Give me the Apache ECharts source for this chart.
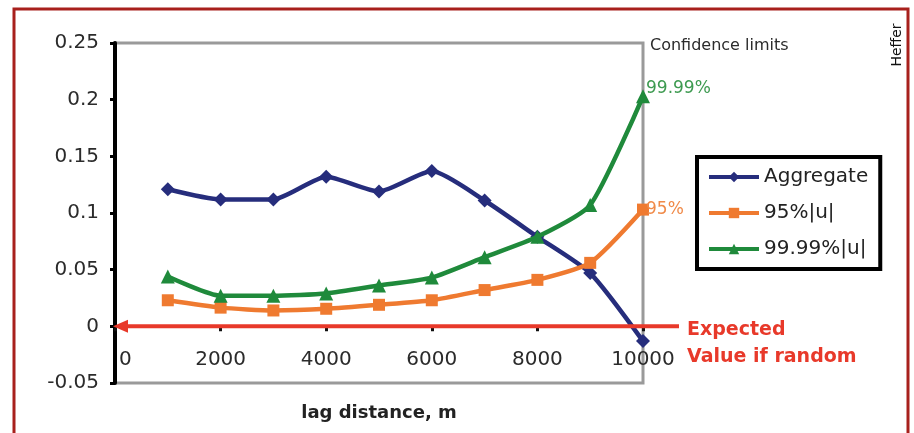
<!DOCTYPE html>
<html>
<head>
<meta charset="utf-8">
<script src="https://cdn.jsdelivr.net/npm/echarts@6/dist/echarts.min.js"></script>
<style>
  html, body { margin: 0; padding: 0; background: #fff; }
  #chart { width: 914px; height: 433px; }
</style>
</head>
<body>
<div id="chart"></div>
<script>
// Lag distances (m) and the three correlogram series
const lagDistance = [1000, 2000, 3000, 4000, 5000, 6000, 7000, 8000, 9000, 10000];
const aggregate   = [0.121, 0.112, 0.112, 0.132, 0.119, 0.137, 0.111, 0.079, 0.047, -0.013];
const limit95     = [0.023, 0.0165, 0.014, 0.0155, 0.019, 0.023, 0.032, 0.041, 0.056, 0.103];
const limit9999   = [0.044, 0.027, 0.027, 0.029, 0.036, 0.043, 0.061, 0.079, 0.107, 0.203];

const seriesNames = ['Aggregate', '95%|u|', '99.99%|u|'];
const yAxisRange = { min: -0.05, max: 0.25, interval: 0.05 };
const xAxisRange = { min: 0, max: 10000, interval: 2000 };
const expectedValue = 0;

const FONT = 'DejaVu Sans';
const NAVY = '#262d7c';
const ORANGE = '#ef7a30';
const GREEN = '#1f8a3b';
const RED = '#e8392a';
const SMOOTH = 0.2;

const pairs = ys => lagDistance.map((x, i) => [x, ys[i]]);

const chart = echarts.init(document.getElementById('chart'));

const grid = { left: 115, right: 271, top: 43, bottom: 50 };

chart.setOption({
  animation: false,
  textStyle: { fontFamily: FONT },
  grid: {
    left: grid.left, right: grid.right, top: grid.top, bottom: grid.bottom,
    show: true, borderColor: '#9a9a9a', borderWidth: 3, backgroundColor: 'transparent'
  },
  title: {
    text: 'Confidence limits',
    left: 650, top: 38,
    padding: 0,
    textStyle: { fontFamily: FONT, fontSize: 16, fontWeight: 'normal', color: '#2b2b2b' }
  },
  legend: {
    data: seriesNames,
    orient: 'vertical',
    left: 697, top: 157,
    padding: [9, 12, 9, 10],
    borderColor: '#000', borderWidth: 4,
    itemWidth: 50, itemHeight: 13, itemGap: 14,
    lineStyle: { width: 4 },
    textStyle: { fontFamily: FONT, fontSize: 20, color: '#222', lineHeight: 22 }
  },
  xAxis: {
    type: 'value',
    min: xAxisRange.min, max: xAxisRange.max, interval: xAxisRange.interval,
    axisLine: { show: true, onZero: true, lineStyle: { color: 'rgba(0,0,0,0)', width: 1 } },
    axisTick: { show: true, length: 5, lineStyle: { color: '#111', width: 3 } },
    axisLabel: {
      margin: -33, fontFamily: FONT, fontSize: 20, color: '#2b2b2b',
      alignMinLabel: 'left',
      formatter: v => (v === xAxisRange.min ? '{first|' + v + '}' : String(v)),
      rich: { first: { fontFamily: FONT, fontSize: 20, color: '#2b2b2b', padding: [0, 0, 0, 4] } }
    },
    splitLine: { show: false }
  },
  yAxis: {
    type: 'value',
    min: yAxisRange.min, max: yAxisRange.max, interval: yAxisRange.interval,
    axisLine: { show: true, onZero: false, lineStyle: { color: '#000', width: 4 } },
    axisTick: { show: true, length: 5, lineStyle: { color: '#000', width: 3 } },
    axisLabel: { margin: 16, fontFamily: FONT, fontSize: 20, color: '#2b2b2b' },
    splitLine: { show: false }
  },
  series: [
    {
      name: seriesNames[0], type: 'line', data: pairs(aggregate),
      smooth: SMOOTH, symbol: 'diamond', symbolSize: 14,
      lineStyle: { color: NAVY, width: 4.5 }, itemStyle: { color: NAVY },
      z: 3
    },
    {
      name: seriesNames[1], type: 'line', data: pairs(limit95),
      smooth: SMOOTH, symbol: 'rect', symbolSize: 12,
      lineStyle: { color: ORANGE, width: 4.5 }, itemStyle: { color: ORANGE },
      endLabel: {
        show: true, formatter: '95%', distance: 3,
        fontFamily: FONT, fontSize: 17, color: '#f08a48'
      },
      z: 4
    },
    {
      name: seriesNames[2], type: 'line', data: pairs(limit9999),
      smooth: SMOOTH, symbol: 'triangle', symbolSize: 14,
      lineStyle: { color: GREEN, width: 4.5 }, itemStyle: { color: GREEN },
      endLabel: {
        show: true, formatter: '99.99%', distance: 3, offset: [0, -8],
        fontFamily: FONT, fontSize: 17, color: '#3d9a50'
      },
      z: 5
    }
  ]
});

// Annotations: expected-value arrow, captions and frame
function drawAnnotations() {
  const origin = chart.convertToPixel({ gridIndex: 0 }, [xAxisRange.min, expectedValue]);
  const rightEdge = chart.convertToPixel({ gridIndex: 0 }, [xAxisRange.max, yAxisRange.min]);
  const yZero = origin[1];
  const tipX = origin[0] - 2;
  const lineEnd = rightEdge[0] + 36;
  const centerX = (origin[0] + rightEdge[0]) / 2;

  chart.setOption({
    graphic: [
      {
        type: 'line', z: 20,
        shape: { x1: tipX + 10, y1: yZero, x2: lineEnd, y2: yZero },
        style: { stroke: RED, lineWidth: 4 }
      },
      {
        type: 'polygon', z: 21,
        shape: { points: [[tipX, yZero], [tipX + 15, yZero - 6.5], [tipX + 15, yZero + 6.5]] },
        style: { fill: RED }
      },
      {
        type: 'text', z: 20,
        x: lineEnd + 8, y: yZero - 10,
        style: {
          text: 'Expected\nValue if random',
          fontFamily: FONT, fontSize: 19, fontWeight: 'bold',
          lineHeight: 27, fill: RED, textVerticalAlign: 'top'
        }
      },
      {
        type: 'text', z: 20,
        x: centerX, y: rightEdge[1] + 30,
        style: {
          text: 'lag distance, m',
          fontFamily: FONT, fontSize: 18, fontWeight: 'bold',
          fill: '#222', textAlign: 'center', textVerticalAlign: 'middle'
        }
      },
      {
        type: 'text', z: 20,
        x: 897, y: 45, rotation: Math.PI / 2,
        style: {
          text: 'Heffer', fontFamily: FONT, fontSize: 14, fill: '#111',
          textAlign: 'center', textVerticalAlign: 'middle'
        }
      },
      {
        type: 'rect', z: 30, silent: true,
        shape: { x: 14, y: 9, width: 894, height: 520 },
        style: { fill: 'none', stroke: '#a8201c', lineWidth: 3 }
      }
    ]
  });
}
drawAnnotations();
</script>
</body>
</html>
